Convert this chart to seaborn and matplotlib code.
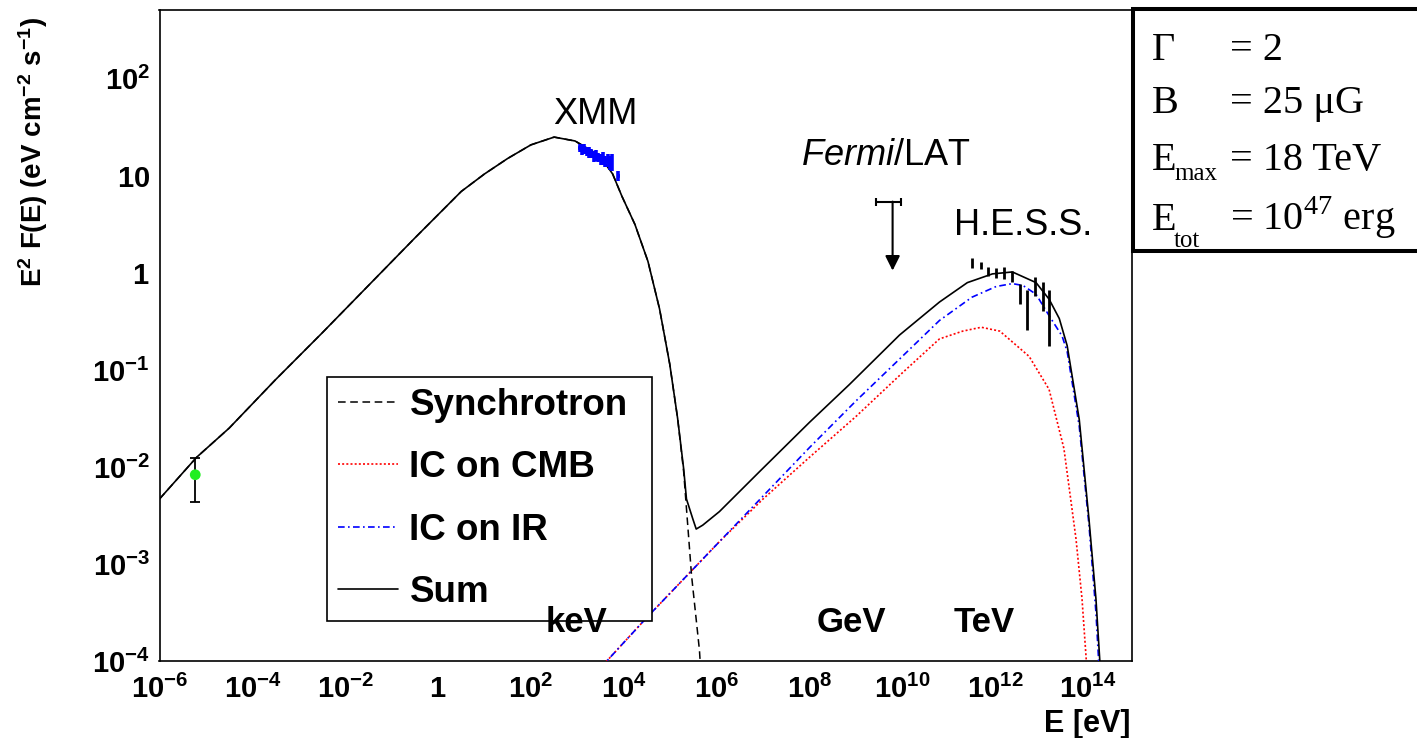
import numpy as np
import pandas as pd
import matplotlib
matplotlib.use("Agg")
import matplotlib.pyplot as plt
import seaborn as sns
from matplotlib.ticker import FixedLocator, FuncFormatter, NullFormatter
from matplotlib.patches import Rectangle
from matplotlib.lines import Line2D

# ---- model curves: log10(E / eV) vs log10(E^2 F(E) / eV cm^-2 s^-1) ----
sum_log_e = [-6.00, -5.20, -4.50, -3.50, -2.50, -1.50, -0.50, 0.50, 1.00, 1.50,
             2.00, 2.50, 2.95, 3.48, 3.76, 3.96, 4.24, 4.52, 4.77, 4.99,
             5.16, 5.29, 5.35, 5.49, 5.56, 5.70, 6.06, 6.92, 8.00, 8.86,
             9.94, 10.80, 11.40, 11.94, 12.37, 12.88, 13.16, 13.38, 13.55, 13.81,
             14.02, 14.17, 14.26]
sum_log_f = [-2.33, -1.90, -1.60, -1.10, -0.62, -0.13, 0.36, 0.84, 1.02, 1.18,
             1.32, 1.40, 1.36, 1.21, 1.02, 0.79, 0.50, 0.12, -0.37, -0.94,
             -1.50, -2.02, -2.33, -2.54, -2.64, -2.60, -2.46, -2.05, -1.54, -1.15,
             -0.64, -0.30, -0.10, -0.01, 0.01, -0.10, -0.27, -0.47, -0.75, -1.51,
             -2.54, -3.36, -4.05]

sync_log_e = [-6.00, -5.20, -4.50, -3.50, -2.50, -1.50, -0.50, 0.50, 1.00, 1.50,
              2.00, 2.50, 2.95, 3.48, 3.76, 3.96, 4.24, 4.52, 4.77, 4.99,
              5.16, 5.29, 5.46, 5.63, 5.67]
sync_log_f = [-2.33, -1.90, -1.60, -1.10, -0.62, -0.13, 0.36, 0.84, 1.02, 1.18,
              1.32, 1.40, 1.36, 1.21, 1.02, 0.79, 0.50, 0.12, -0.37, -0.94,
              -1.50, -2.05, -3.12, -3.89, -4.20]

ic_cmb_log_e = [3.50, 4.50, 5.50, 6.06, 7.00, 8.00, 9.00, 10.00, 10.80, 11.30,
                11.70, 12.10, 12.73, 13.16, 13.48, 13.74, 13.87, 13.96, 14.00]
ic_cmb_log_f = [-4.07, -3.55, -3.05, -2.77, -2.33, -1.90, -1.48, -1.03, -0.68, -0.60,
                -0.56, -0.60, -0.86, -1.20, -1.81, -2.74, -3.36, -3.98, -4.30]

ic_ir_log_e = [3.50, 4.50, 5.50, 6.06, 7.00, 8.00, 9.00, 10.00, 10.80, 11.50,
               12.02, 12.37, 12.60, 12.88, 13.16, 13.44, 13.55, 13.81, 14.02, 14.17,
               14.24]
ic_ir_log_f = [-4.07, -3.55, -3.05, -2.77, -2.30, -1.80, -1.32, -0.86, -0.49, -0.25,
               -0.14, -0.11, -0.13, -0.22, -0.44, -0.65, -0.81, -1.58, -2.60, -3.50,
               -4.10]

# ---- measurements ----
radio_log_e = [-5.23]
radio_log_f = [-2.08]
radio_log_lo = [-2.36]
radio_log_hi = [-1.91]

xmm_log_e = [3.05, 3.10, 3.15, 3.20, 3.25, 3.30, 3.35, 3.40, 3.45, 3.50,
             3.55, 3.60, 3.65, 3.70, 3.74, 3.88]
xmm_log_f = [1.29, 1.27, 1.28, 1.25, 1.24, 1.23, 1.20, 1.21, 1.19, 1.17,
             1.18, 1.15, 1.16, 1.13, 1.14, 1.00]
xmm_log_err = [0.04, 0.05, 0.05, 0.05, 0.06, 0.05, 0.06, 0.06, 0.05, 0.06,
               0.07, 0.06, 0.07, 0.07, 0.09, 0.05]

fermi_log_e = 9.79
fermi_log_e_lo = 9.43
fermi_log_e_hi = 9.97
fermi_log_ul = 0.735
fermi_log_arrow_tip = 0.024

hess_log_e = [11.51, 11.69, 11.85, 12.01, 12.18, 12.36, 12.53, 12.68, 12.85, 13.03, 13.16]
hess_log_lo = [0.049, 0.036, -0.034, -0.055, -0.062, -0.096, -0.32, -0.59, -0.234, -0.39, -0.75]
hess_log_hi = [0.152, 0.111, 0.059, 0.049, 0.059, 0.024, -0.113, -0.18, -0.044, -0.09, -0.18]

legend_labels = ["Synchrotron", "IC on CMB", "IC on IR", "Sum"]
param_names = ["Γ", "B", "E", "E"]
param_subscripts = ["", "", "max", "tot"]
param_values = ["= 2", "= 25 μG", "= 18 TeV", "= 10$^{47}$ erg"]

# ---- style ----
sns.set_theme(style="white")
plt.rcParams.update({
    "font.family": ["Liberation Sans", "DejaVu Sans"],
    "font.weight": "normal",
    "text.color": "black",
    "mathtext.fontset": "custom",
    "mathtext.rm": "Liberation Serif",
    "mathtext.it": "Liberation Sans:italic",
    "mathtext.bf": "Liberation Sans:bold",
    "axes.edgecolor": "black",
    "axes.linewidth": 1.2,
    "lines.scale_dashes": True,
})

W, H = 1417, 738
fig = plt.figure(figsize=(W / 100, H / 100), dpi=100)
ax_l, ax_r, ax_t, ax_b = 159.5, 1131.7, 10.0, 661.0
ax = fig.add_axes([ax_l / W, 1 - ax_b / H, (ax_r - ax_l) / W, (ax_b - ax_t) / H])
ax.set_xscale("log")
ax.set_yscale("log")


def curve(le, lf, **kw):
    df = pd.DataFrame({"E": 10.0 ** np.asarray(le), "F": 10.0 ** np.asarray(lf)})
    sns.lineplot(data=df, x="E", y="F", ax=ax, estimator=None, sort=False,
                 legend=False, **kw)


style_cmb = dict(color="#ff0000", lw=1.2, linestyle=(0, (1.2, 1.3)))
style_ir = dict(color="#0000ff", lw=1.2, linestyle=(0, (4, 2, 1, 2)))
style_sync = dict(color="black", lw=1.1, linestyle=(0, (5, 3)))
style_sum = dict(color="black", lw=1.2, linestyle="-")

curve(ic_cmb_log_e, ic_cmb_log_f, zorder=3, **style_cmb)
curve(ic_ir_log_e, ic_ir_log_f, zorder=3, **style_ir)
curve(sum_log_e, sum_log_f, zorder=4, **style_sum)
curve(sync_log_e, sync_log_f, zorder=5, **style_sync)

# radio point
re = 10.0 ** np.array(radio_log_e)
rf = 10.0 ** np.array(radio_log_f)
ax.errorbar(re, rf, yerr=[rf - 10.0 ** np.array(radio_log_lo), 10.0 ** np.array(radio_log_hi) - rf],
            fmt="none", ecolor="black", elinewidth=1.3, capsize=3.6, capthick=1.3, zorder=6)
sns.scatterplot(x=re, y=rf, ax=ax, color="#22ee22", s=60, edgecolor="none", zorder=7, legend=False)

# XMM spectrum
xe = np.array(xmm_log_e)
xf = np.array(xmm_log_f)
xr = np.array(xmm_log_err)
ax.errorbar(10 ** xe, 10 ** xf,
            xerr=[10 ** xe - 10 ** (xe - 0.035), 10 ** (xe + 0.035) - 10 ** xe],
            yerr=[10 ** xf - 10 ** (xf - xr), 10 ** (xf + xr) - 10 ** xf],
            fmt="none", ecolor="#0000ff", elinewidth=2.6, zorder=6)

# Fermi/LAT upper limit
fe = 10 ** fermi_log_e
fu = 10 ** fermi_log_ul
ax.errorbar([fe], [fu], xerr=[[fe - 10 ** fermi_log_e_lo], [10 ** fermi_log_e_hi - fe]],
            fmt="none", ecolor="black", elinewidth=1.5, capsize=2.9, capthick=1.5, zorder=6)
ax.annotate("", xy=(fe, 10 ** fermi_log_arrow_tip), xytext=(fe, fu),
            arrowprops=dict(arrowstyle="-|>", color="black", lw=1.5,
                            mutation_scale=22, shrinkA=0, shrinkB=0), zorder=6)

# H.E.S.S. spectrum
he = 10 ** np.array(hess_log_e)
hlo = 10 ** np.array(hess_log_lo)
hhi = 10 ** np.array(hess_log_hi)
hc = np.sqrt(hlo * hhi)
ax.errorbar(he, hc, yerr=[hc - hlo, hhi - hc], fmt="none", ecolor="black",
            elinewidth=2.0, zorder=6)

ax.set_xlim(1e-6, 10 ** 14.94)
ax.set_ylim(1e-4, 10 ** 2.71)
ax.set_xlabel("")
ax.set_ylabel("")

# ---- axes ticks ----
x_major = [10.0 ** n for n in range(-6, 15)]
x_minor = [5 * 10.0 ** n for n in range(-6, 15)]
y_major = [10.0 ** n for n in range(-4, 3)]
y_minor = [m * 10.0 ** n for n in range(-4, 3) for m in range(2, 10)]


def fmt_x(v, pos):
    n = int(round(np.log10(v)))
    if n % 2:
        return ""
    if n == 0:
        return r"$\mathbf{1}$"
    return r"$\mathbf{10^{%d}}$" % n


def fmt_y(v, pos):
    n = int(round(np.log10(v)))
    if n == 0:
        return r"$\mathbf{1}$"
    if n == 1:
        return r"$\mathbf{10}$"
    return r"$\mathbf{10^{%d}}$" % n


ax.xaxis.set_major_locator(FixedLocator(x_major))
ax.xaxis.set_minor_locator(FixedLocator(x_minor))
ax.xaxis.set_major_formatter(FuncFormatter(fmt_x))
ax.xaxis.set_minor_formatter(NullFormatter())
ax.yaxis.set_major_locator(FixedLocator(y_major))
ax.yaxis.set_minor_locator(FixedLocator(y_minor))
ax.yaxis.set_major_formatter(FuncFormatter(fmt_y))
ax.yaxis.set_minor_formatter(NullFormatter())

ax.tick_params(axis="both", which="both", direction="in", color="black", width=1.1,
               top=False, right=False, labelsize=21, labelcolor="black")
ax.tick_params(axis="x", which="major", length=13.5, pad=10)
ax.tick_params(axis="x", which="minor", length=7)
ax.tick_params(axis="y", which="major", length=23, pad=7)
ax.tick_params(axis="y", which="minor", length=11)
for s in ax.spines.values():
    s.set_color("black")
    s.set_linewidth(1.2)
ax.grid(False)

# ---- legend ----
handles = [Line2D([], [], **style_sync), Line2D([], [], **style_cmb),
           Line2D([], [], **style_ir), Line2D([], [], **style_sum)]
lx0 = (327 - ax_l) / (ax_r - ax_l)
lx1 = (652 - ax_l) / (ax_r - ax_l)
ly1 = (ax_b - 377) / (ax_b - ax_t)
ly0 = (ax_b - 619) / (ax_b - ax_t)
leg = ax.legend(handles, legend_labels, loc="upper left",
                bbox_to_anchor=(lx0, ly0, lx1 - lx0, ly1 - ly0), mode="expand",
                borderaxespad=0, frameon=True, fancybox=False, shadow=False,
                prop={"family": "Liberation Sans", "weight": "bold", "size": 26.5},
                handlelength=1.62, handletextpad=0.32, borderpad=0.3,
                labelspacing=0.74)
leg.get_frame().set_edgecolor("black")
leg.get_frame().set_linewidth(1.2)
leg.get_frame().set_facecolor("white")
leg.get_frame().set_alpha(1)
for t in leg.get_texts():
    t.set_color("black")
leg.set_zorder(8)

# ---- annotations (drawn above the legend frame) ----
ax.text(10 ** 3.38, 10 ** 1.536, "XMM", ha="center", va="baseline",
        fontsize=26, color="black", zorder=9)
ax.text(10 ** 9.65, 10 ** 1.113, r"$\mathit{Fermi}$/LAT", ha="center", va="baseline",
        fontsize=26, color="black", zorder=9)
ax.text(10 ** 12.61, 10 ** 0.392, "H.E.S.S.", ha="center", va="baseline",
        fontsize=26, color="black", zorder=9)
for lab, le in [("keV", 2.98), ("GeV", 8.91), ("TeV", 11.76)]:
    ax.text(10 ** le, 10 ** -3.70, lab, ha="center", va="baseline",
            fontsize=25, fontweight="bold", color="black", zorder=9)

# ---- axis titles ----
fig.text(1130 / W, 1 - 732 / H, "E [eV]", ha="right", va="baseline",
         fontsize=22, fontweight="bold", color="black")
fig.text(33 / W, 1 - 152 / H,
         r"E$^{\mathbf{2}}$ F(E) (eV cm$^{\mathbf{-2}}$ s$^{\mathbf{-1}}$)",
         rotation=90, ha="center", va="center", fontsize=20, fontweight="bold",
         color="black")

# ---- parameter box ----
fig.patches.append(Rectangle((1132.5 / W, 1 - 251 / H), (1440 - 1132.5) / W, (251 - 9.5) / H,
                             transform=fig.transFigure, facecolor="white",
                             edgecolor="black", linewidth=2.9, zorder=10))
baselines = [60, 113, 170, 230]
sub_baselines = [0, 0, 180, 247]
for name, sub, val, yb, ys in zip(param_names, param_subscripts, param_values,
                                  baselines, sub_baselines):
    fig.text(1152 / W, 1 - yb / H, name, ha="left", va="baseline",
             fontsize=29, family="Liberation Serif", color="black", zorder=11)
    if sub:
        fig.text(1174 / W, 1 - ys / H, sub, ha="left", va="baseline",
                 fontsize=18, family="Liberation Serif", color="black", zorder=11)
    fig.text(1230 / W, 1 - yb / H, val, ha="left", va="baseline",
             fontsize=29, family="Liberation Serif", color="black", zorder=11)

fig.savefig("out.png", dpi=100, facecolor="white")
